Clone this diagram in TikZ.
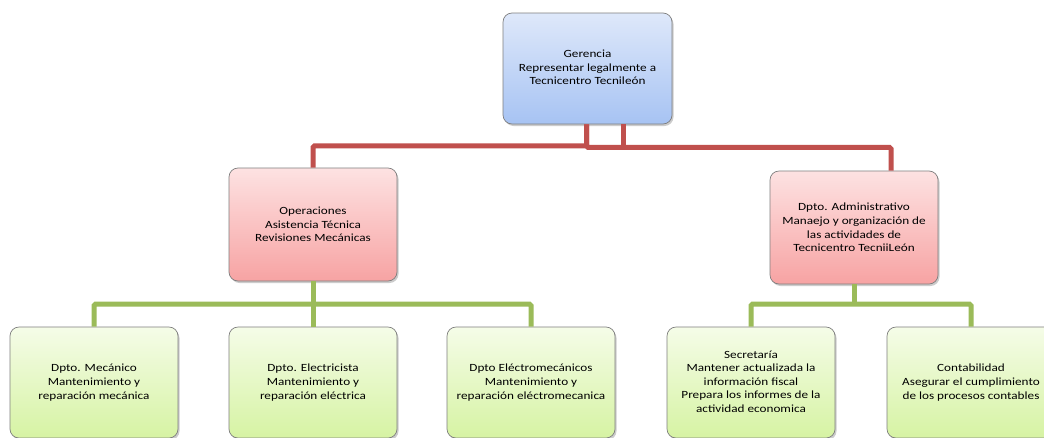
\documentclass[tikz,border=0pt]{standalone}
\usepackage{fontspec}
\setmainfont{Carlito}[FakeStretch=1.2]
\usetikzlibrary{shadows,calc}
\definecolor{redln}{HTML}{C0504D}
\definecolor{grnln}{HTML}{9BBB59}
\definecolor{blueT}{HTML}{DEE8FA}
\definecolor{blueB}{HTML}{A7C3F3}
\definecolor{redT}{HTML}{FDE2E2}
\definecolor{redB}{HTML}{F7A3A3}
\definecolor{grnT}{HTML}{F5FCE8}
\definecolor{grnB}{HTML}{D6F3A3}
\definecolor{bord}{HTML}{7F7F7F}
\tikzset{
  box/.style={draw=bord, line width=0.7pt, rounded corners=9pt,
    minimum width=168pt, minimum height=111pt, align=center, inner sep=2pt,
    font=\fontsize{11}{13.6}\selectfont, text=black,
    drop shadow={shadow xshift=1.5pt, shadow yshift=-2pt, opacity=0.4}},
  bluebox/.style={box, top color=blueT, bottom color=blueB},
  redbox/.style={box, top color=redT, bottom color=redB},
  grnbox/.style={box, top color=grnT, bottom color=grnB},
  redc/.style={draw=redln, line width=5pt, rounded corners=1.5pt},
  grc/.style={draw=grnln, line width=5pt, rounded corners=1.5pt},
}
\begin{document}
\begin{tikzpicture}[x=1pt,y=-1pt]
\useasboundingbox (0,0) rectangle (1044,437);
\clip (0,0) rectangle (1044,437);
\fill[white] (0,0) rectangle (1044,437);

\node[bluebox, minimum width=169pt] (ger) at (587.5,68.5)
  {\raisebox{8pt}{\begin{tabular}{@{}c@{}}Gerencia\\Representar legalmente a\\Tecnicentro Tecnileón\end{tabular}}};
\node[redbox, minimum height=113pt] (ops) at (313,224.5)
  {Operaciones\\Asistencia Técnica\\Revisiones Mecánicas};
\node[redbox, minimum height=113pt] (adm) at (854,227.5)
  {Dpto. Administrativo\\Manaejo y organización de\\las actividades de\\Tecnicentro TecniiLeón};

\node[grnbox] (b1) at (94,382.5)
  {Dpto. Mecánico\\Mantenimiento y\\reparación mecánica};
\node[grnbox] (b2) at (313,382.5)
  {Dpto. Electricista\\Mantenimiento y\\reparación eléctrica};
\node[grnbox] (b3) at (531,382.5)
  {Dpto Eléctromecánicos\\Mantenimiento y\\reparación eléctromecanica};
\node[grnbox] (sec) at (751,382.5)
  {\raisebox{6pt}{\begin{tabular}{@{}c@{}}Secretaría\\Mantener actualizada la\\información fiscal\\Prepara los informes de la\\actividad economica\end{tabular}}};
\node[grnbox] (con) at (971,382.5)
  {Contabilidad\\Asegurar el cumplimiento\\de los procesos contables};

% red connectors
\draw[redc] ([xshift=-1pt]ger.south) -- ++(0,21.5) -| (ops.north);
\draw[redc] ([xshift=-1pt]ger.south) -- ++(0,23) -| ([xshift=37pt]adm.north);
\draw[redc] ([xshift=36pt]ger.south) -- ++(0,23);

% green connectors
\draw[grc] (ops.south) -- (b2.north);
\draw[grc] (b1.north) -- ++(0,-22.5) -| (b3.north);
\draw[grc] (adm.south) -- ++(0,21);
\draw[grc] (sec.north) -- ++(0,-22.5) -| (con.north);
\end{tikzpicture}
\end{document}
